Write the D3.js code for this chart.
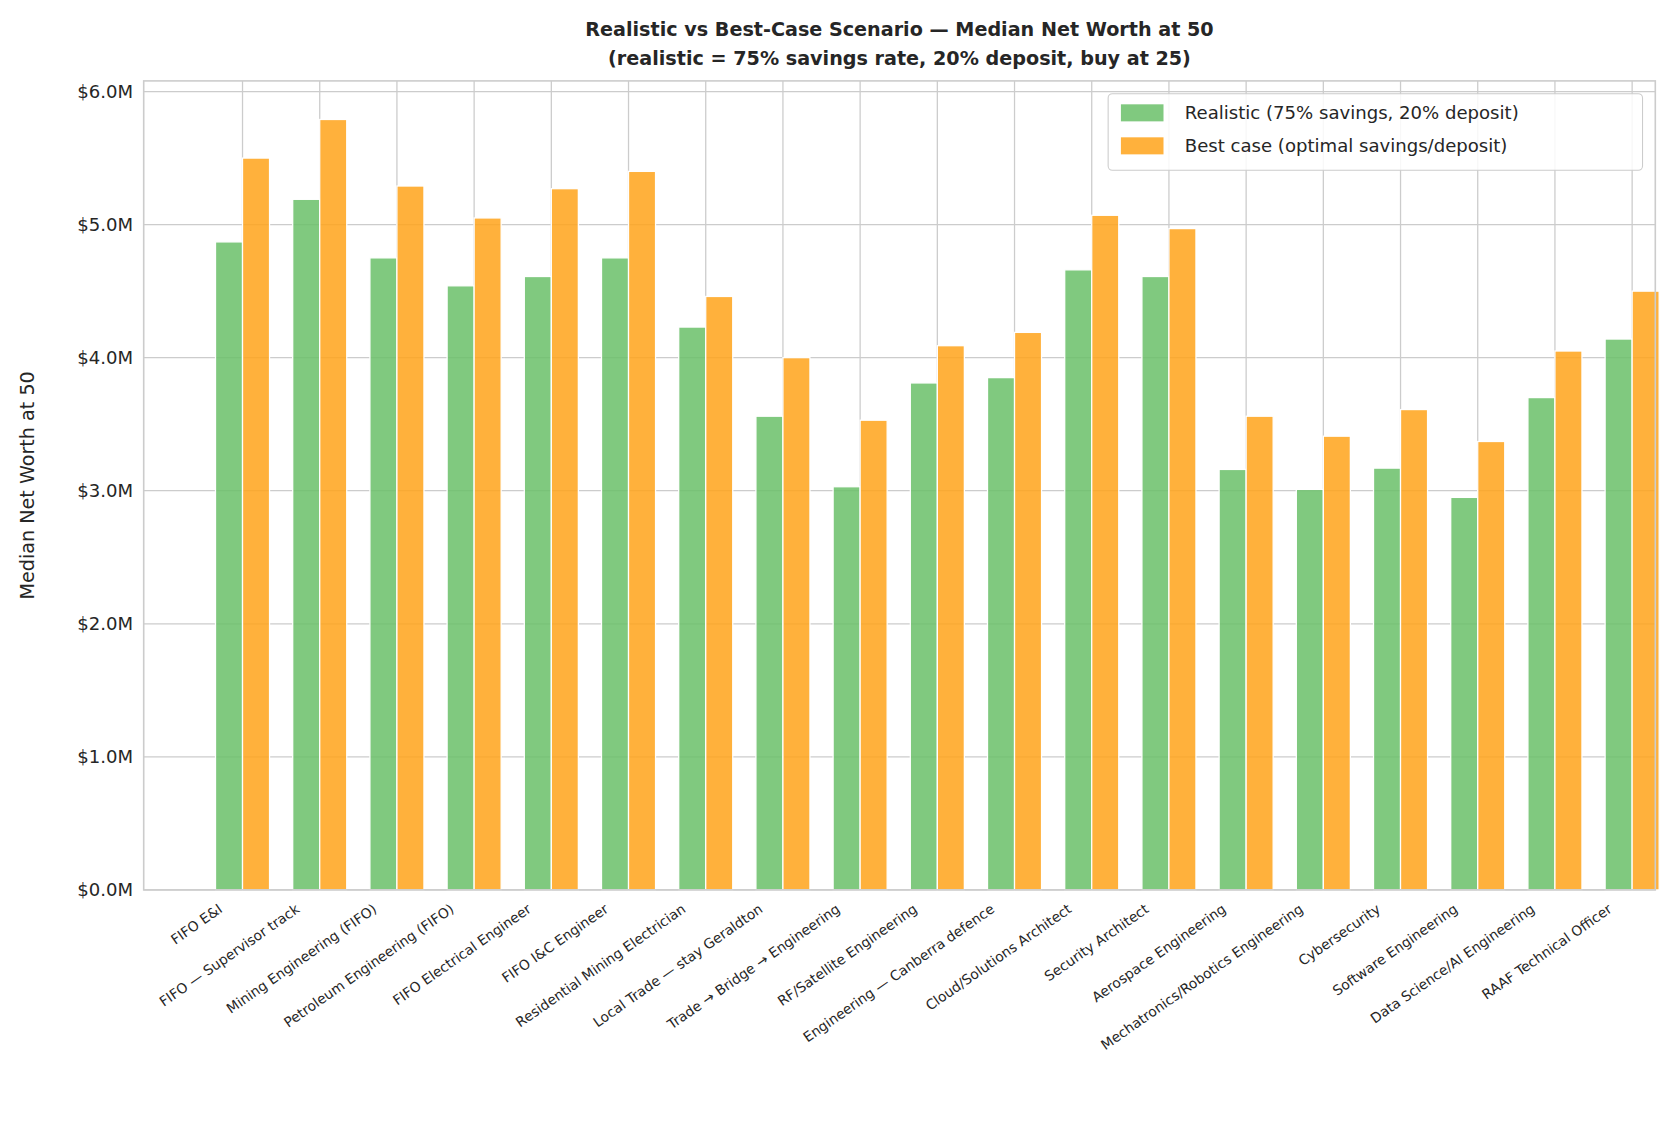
<!DOCTYPE html><html><head><meta charset="utf-8"><script src="https://cdn.jsdelivr.net/npm/d3@7"></script>
<style>body{margin:0;background:#fff}text{font-family:"DejaVu Sans",sans-serif;fill:#262626}</style></head><body><svg id="c" width="1669" height="1130"></svg><script>
const categories=["FIFO E&I","FIFO — Supervisor track","Mining Engineering (FIFO)","Petroleum Engineering (FIFO)","FIFO Electrical Engineer","FIFO I&C Engineer","Residential Mining Electrician","Local Trade — stay Geraldton","Trade → Bridge → Engineering","RF/Satellite Engineering","Engineering — Canberra defence","Cloud/Solutions Architect","Security Architect","Aerospace Engineering","Mechatronics/Robotics Engineering","Cybersecurity","Software Engineering","Data Science/AI Engineering","RAAF Technical Officer"];
const realistic=[4.87,5.19,4.75,4.54,4.61,4.75,4.23,3.56,3.03,3.81,3.85,4.66,4.61,3.16,3.01,3.17,2.95,3.70,4.14];
const bestCase=[5.50,5.79,5.29,5.05,5.27,5.40,4.46,4.00,3.53,4.09,4.19,5.07,4.97,3.56,3.41,3.61,3.37,4.05,4.50];
const yTicks=[0,1,2,3,4,5,6];
const seriesNames=["Realistic (75% savings, 20% deposit)","Best case (optimal savings/deposit)"];
const colors=["#6abf69","#ffa31a"];
const svg=d3.select("#c").append("g").attr("transform","scale(1.0645)");
const L=135,R=1555,T=76,B=836;
const x=d3.scaleLinear().domain([-1.28,18.3]).range([L,R]);
const y=d3.scaleLinear().domain([0,6.08]).range([B,T]);
const g=svg.append("g");
g.selectAll(".hg").data(yTicks).join("line").attr("x1",L).attr("x2",R).attr("y1",d=>y(d)).attr("y2",d=>y(d)).attr("stroke","#cccccc").attr("stroke-width",1.2);
g.selectAll(".vg").data(categories).join("line").attr("x1",(d,i)=>x(i)).attr("x2",(d,i)=>x(i)).attr("y1",T).attr("y2",B).attr("stroke","#cccccc").attr("stroke-width",1.2);
const bw=x(0.35)-x(0);
[realistic,bestCase].forEach((arr,s)=>{
g.selectAll(".b"+s).data(arr).join("rect").attr("x",(d,i)=>s==0?x(i)-bw:x(i)).attr("width",bw).attr("y",d=>y(d)).attr("height",d=>B-y(d)).attr("fill",colors[s]).attr("fill-opacity",0.85).attr("stroke","#fff").attr("stroke-width",1.2);
});
svg.append("rect").attr("x",L).attr("y",T).attr("width",R-L).attr("height",B-T).attr("fill","none").attr("stroke","#cccccc").attr("stroke-width",1.5);
g.selectAll(".yl").data(yTicks).join("text").attr("x",L-10).attr("y",d=>y(d)+6).attr("text-anchor","end").attr("font-size",17).text(d=>"$"+d.toFixed(1)+"M");
g.selectAll(".xl").data(categories).join("text").attr("text-anchor","end").attr("font-size",13).attr("transform",(d,i)=>`translate(${x(i)-18},${B+20}) rotate(-35)`).text(d=>d);
svg.append("text").attr("transform",`translate(32,${(T+B)/2}) rotate(-90)`).attr("text-anchor","middle").attr("font-size",18).text("Median Net Worth at 50");
svg.append("text").attr("x",(L+R)/2).attr("y",34).attr("text-anchor","middle").attr("font-size",18).attr("font-weight","bold").text("Realistic vs Best-Case Scenario — Median Net Worth at 50");
svg.append("text").attr("x",(L+R)/2).attr("y",61).attr("text-anchor","middle").attr("font-size",18).attr("font-weight","bold").text("(realistic = 75% savings rate, 20% deposit, buy at 25)");
const lg=svg.append("g").attr("transform","translate(1041,88)");
lg.append("rect").attr("width",502).attr("height",72).attr("rx",4).attr("fill","#fff").attr("fill-opacity",0.85).attr("stroke","#cccccc");
seriesNames.forEach((n,i)=>{lg.append("rect").attr("x",12).attr("y",10+i*31).attr("width",40).attr("height",16).attr("fill",colors[i]).attr("fill-opacity",0.85);
lg.append("text").attr("x",72).attr("y",24+i*31).attr("font-size",17).text(n);});
</script></body></html>
